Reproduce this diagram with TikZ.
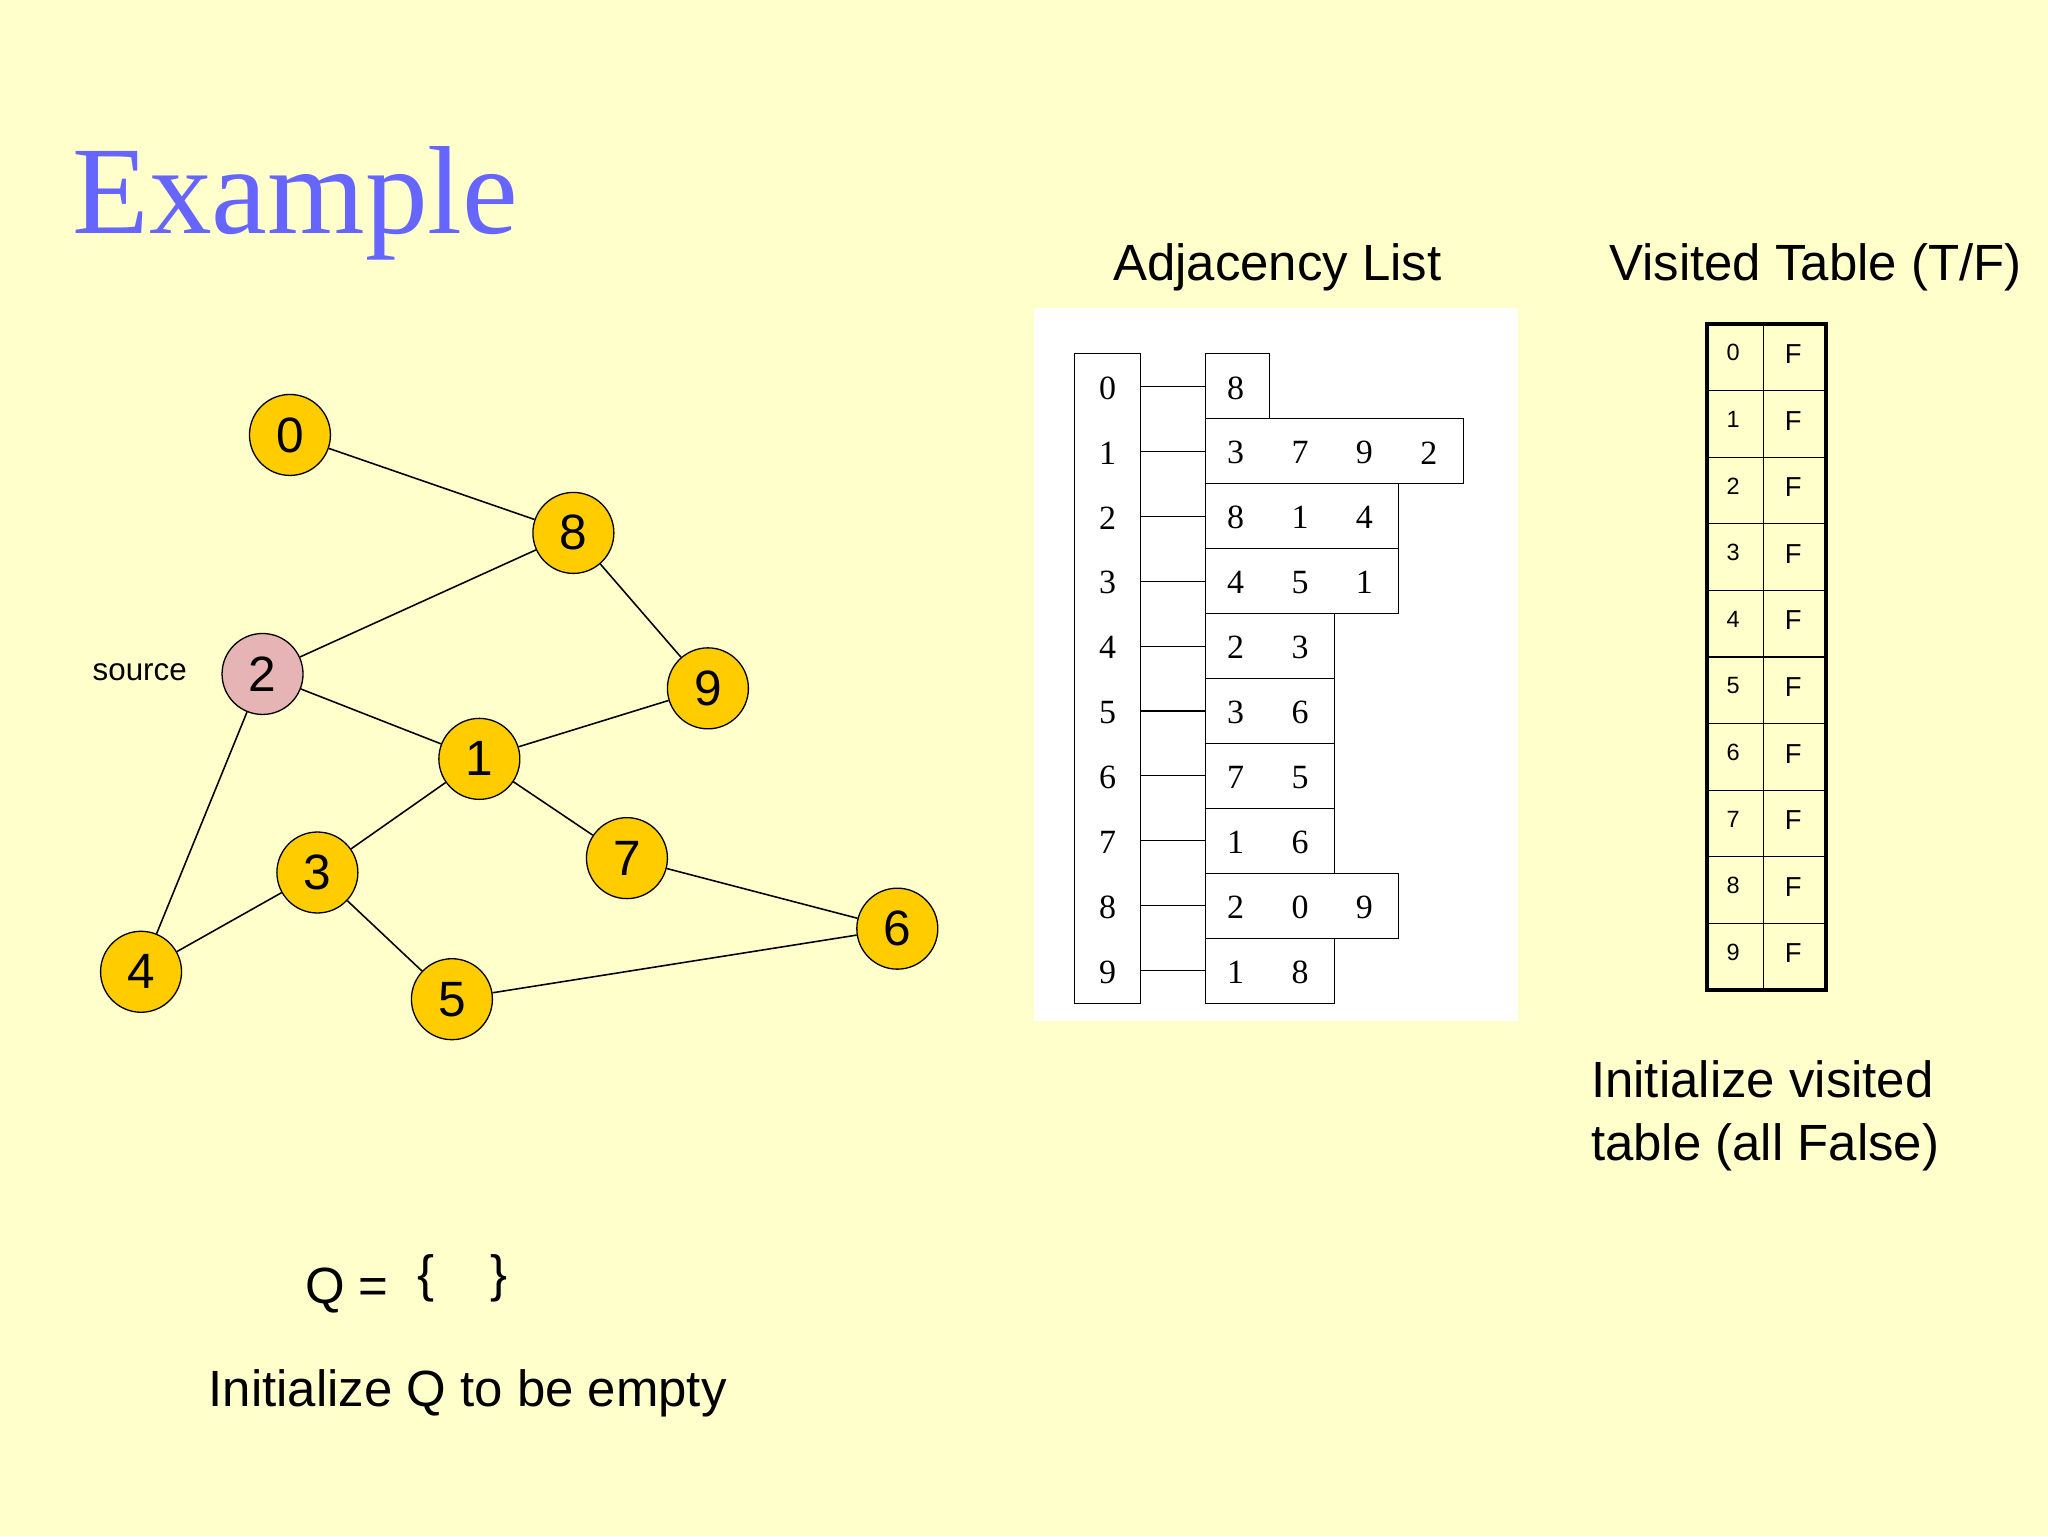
\documentclass[tikz,border=0pt]{standalone}
\usepackage{fontspec}
\setmainfont{Liberation Sans}
\newfontfamily\serif{Liberation Serif}
\begin{document}
\begin{tikzpicture}[x=1pt,y=-1pt,
  v/.style={circle,draw=black,line width=1pt,fill=gold,minimum size=62pt,inner sep=0pt,font=\fontsize{38}{40}\selectfont},
  e/.style={line width=1.2pt},
  cell/.style={draw=black,line width=0.8pt},
  adj/.style={font=\serif\fontsize{26}{28}\selectfont},
  lab/.style={font=\fontsize{39}{48}\selectfont}]
\definecolor{bg}{RGB}{255,255,204}
\definecolor{gold}{RGB}{255,204,0}
\definecolor{pinkv}{RGB}{230,180,180}
\definecolor{title}{RGB}{102,102,255}
\fill[bg] (0,0) rectangle (1568,1176);
\useasboundingbox (0,0) rectangle (1568,1176);
\node[anchor=west,text=title,font=\serif\fontsize{96}{100}\selectfont] (ttl) at (52,156) {Example};
% graph
\node[v] (n0) at (222,333) {0};
\node[v] (n8) at (439,408) {8};
\node[v,fill=pinkv] (n2) at (201,516) {2};
\node[v] (n9) at (542,527) {9};
\node[v] (n1) at (367,581) {1};
\node[v] (n7) at (480,657) {7};
\node[v] (n3) at (243,668) {3};
\node[v] (n6) at (687,711) {6};
\node[v] (n4) at (108,744) {4};
\node[v] (n5) at (346,765) {5};
\node[font=\fontsize{24}{26}\selectfont] (src) at (107,515) {source};
\foreach \a/\b in {0/8,8/2,8/9,2/1,2/4,1/9,1/3,1/7,3/4,3/5,7/6,5/6}
  \draw[e] (n\a) -- (n\b);
% adjacency list
\node[lab] (adjt) at (978,205) {Adjacency List};
\fill[white] (792,236) rectangle (1162,782);
\draw[cell] (823,271) rectangle (873,768);
\foreach \i/\lst/\n in {0/{8}/1,1/{3,7,9,2}/4,2/{8,1,4}/3,3/{4,5,1}/3,4/{2,3}/2,5/{3,6}/2,6/{7,5}/2,7/{1,6}/2,8/{2,0,9}/3,9/{1,8}/2}{
  \pgfmathsetmacro{\yt}{271+49.7*\i}
  \pgfmathsetmacro{\yc}{\yt+26}
  \node[adj] (ix\i) at (848,\yc) {\i};
  \coordinate (ls\i) at (873,\yt+24.85);
  \coordinate (le\i) at (923,\yt+24.85);
  \draw[cell] (ls\i) -- (le\i);
  \draw[cell] (923,\yt) rectangle (923+49.3*\n,\yt+49.7);
  \foreach \d [count=\k from 0] in \lst {
    \pgfmathsetmacro{\xl}{923+49.3*\k}
    \node[adj] (c\i\k) at (\xl+23,\yc) {\d};
  }
}
% visited table
\node[lab] (vist) at (1390,205) {Visited Table (T/F)};
\foreach \i in {0,...,9}{
  \pgfmathsetmacro{\yt}{248+51*\i}
  \draw[line width=1pt] (1307,\yt) rectangle (1350,\yt+51);
  \draw[line width=1pt] (1350,\yt) rectangle (1398,\yt+51);
  \node[font=\fontsize{18}{20}\selectfont] (vi\i) at (1327,\yt+22) {\i};
  \node[font=\fontsize{21}{22}\selectfont] (vf\i) at (1373,\yt+23) {F};
}
\draw[line width=3pt] (1307,248) rectangle (1398,758);
\node[lab,anchor=north west,align=left,inner sep=0pt] (init) at (1218,812) {Initialize visited\\table (all False)};
\node[lab,anchor=west] (q) at (230,988) {Q =};
\node[lab] (qb) at (326,979) {\{};
\node[lab] (qe) at (382,979) {\}};
\node[lab] (qt) at (358,1067) {Initialize Q to be empty};
\end{tikzpicture}
\end{document}
